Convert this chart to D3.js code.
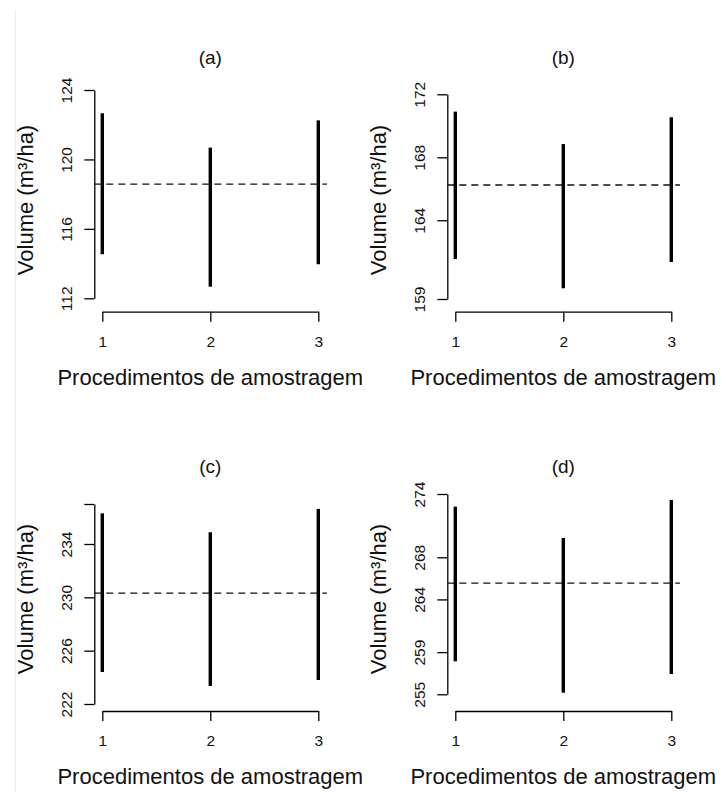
<!DOCTYPE html>
<html>
<head>
<meta charset="utf-8">
<script src="https://cdn.jsdelivr.net/npm/d3@7"></script>
<style>
  body { margin: 0; background: #fff; }
  svg { display: block; font-family: "Liberation Sans", Arial, sans-serif; }
  .axis path, .axis line { stroke: #000; stroke-width: 1.3px; }
  .axis text { font-size: 15.5px; fill: #111; }
  .title, .xlab, .ylab { fill: #111; }
</style>
</head>
<body>
<svg id="chart"></svg>
<script>
// ---- data ----
const procedures = [1, 2, 3];
const panelTitles = ['(a)', '(b)', '(c)', '(d)'];
const xLabel = 'Procedimentos de amostragem';
const yLabel = 'Volume (m³/ha)';

// interval limits (lower / upper) per procedure
const lowerA = [114.54, 112.67, 113.96];
const upperA = [122.66, 120.68, 122.25];
const lowerB = [161.54, 159.68, 161.35];
const upperB = [170.90, 168.84, 170.54];
const lowerC = [224.40, 223.35, 223.80];
const upperC = [236.30, 234.88, 236.63];
const lowerD = [258.13, 255.15, 256.92];
const upperD = [272.80, 269.83, 273.43];

// reference (dashed) value per panel
const refValues = [118.58, 166.24, 230.32, 265.55];

// y tick values and labels
const ticksA = [112, 116, 120, 124];
const ticksB = [159, 164, 168, 172];
const ticksC = [222, 226, 230, 234, 237];
const ticksD = [255, 259, 264, 268, 274];
const tickLabelsC = ['222', '226', '230', '234', ''];

// ---- layout ----
const width = 721, height = 792;

const svg = d3.select('#chart')
    .attr('width', width)
    .attr('height', height);

// faint frame line on the left of the scan
svg.append('line')
    .attr('x1', 15.5).attr('x2', 15.5)
    .attr('y1', 10).attr('y2', height)
    .attr('stroke', '#ececec')
    .attr('stroke-width', 1);

const panels = [
  {title: panelTitles[0], lower: lowerA, upper: upperA, ref: refValues[0], ticks: ticksA,
   axisX: 94.3, xRange: [102.3, 318.3], yRange: [298.3, 90], xAxisY: 311.7, titleY: 57, midY: 200},
  {title: panelTitles[1], lower: lowerB, upper: upperB, ref: refValues[1], ticks: ticksB,
   axisX: 447.3, xRange: [455.3, 671.3], yRange: [299, 94.3], xAxisY: 311.7, titleY: 57, midY: 200},
  {title: panelTitles[2], lower: lowerC, upper: upperC, ref: refValues[2], ticks: ticksC, labels: tickLabelsC,
   axisX: 94.3, xRange: [102.3, 318.3], yRange: [704, 504], xAxisY: 711, titleY: 466, midY: 599},
  {title: panelTitles[3], lower: lowerD, upper: upperD, ref: refValues[3], ticks: ticksD,
   axisX: 447.3, xRange: [455.3, 671.3], yRange: [694.3, 494], xAxisY: 711, titleY: 466, midY: 599}
];

panels.forEach(p => drawPanel(p));

function drawPanel(p) {
  const g = svg.append('g');

  const xScale = d3.scaleLinear()
      .domain([1, 3])
      .range(p.xRange);

  const yScale = d3.scaleLinear()
      .domain(d3.extent(p.ticks))
      .range(p.yRange);

  // y axis
  const yAxis = d3.axisLeft(yScale)
      .tickValues(p.ticks)
      .tickSize(10)
      .tickSizeOuter(0)
      .tickFormat((d, i) => p.labels ? p.labels[i] : d);

  g.append('g')
      .attr('class', 'axis y-axis')
      .attr('transform', `translate(${p.axisX},0)`)
      .call(yAxis)
      .call(a => a.selectAll('text')
          .attr('x', 0)
          .attr('dy', '0.35em')
          .attr('transform', 'translate(-28,0) rotate(-90)')
          .style('text-anchor', 'middle'));

  // x axis
  const xAxis = d3.axisBottom(xScale)
      .tickValues(procedures)
      .tickSize(10)
      .tickSizeOuter(0)
      .tickFormat(d => d);

  g.append('g')
      .attr('class', 'axis x-axis')
      .attr('transform', `translate(0,${p.xAxisY})`)
      .call(xAxis)
      .call(a => a.selectAll('text').attr('y', 24));

  // dashed reference line across the plot region
  g.append('line')
      .attr('x1', p.axisX)
      .attr('x2', xScale(3.08))
      .attr('y1', yScale(p.ref))
      .attr('y2', yScale(p.ref))
      .attr('stroke', '#111')
      .attr('stroke-width', 1.3)
      .attr('stroke-dasharray', '7,5');

  // interval segments
  g.selectAll('.seg')
      .data(procedures)
    .join('line')
      .attr('class', 'seg')
      .attr('x1', d => xScale(d))
      .attr('x2', d => xScale(d))
      .attr('y1', (d, i) => yScale(p.lower[i]))
      .attr('y2', (d, i) => yScale(p.upper[i]))
      .attr('stroke', '#000')
      .attr('stroke-width', 3.4);

  // title
  g.append('text')
      .attr('class', 'title')
      .attr('x', xScale(2))
      .attr('y', p.titleY)
      .attr('dy', '0.35em')
      .style('text-anchor', 'middle')
      .style('font-size', '19px')
      .text(p.title);

  // axis titles
  g.append('text')
      .attr('class', 'xlab')
      .attr('x', xScale(2))
      .attr('y', p.xAxisY + 73)
      .style('text-anchor', 'middle')
      .style('font-size', '22px')
      .text(xLabel);

  g.append('text')
      .attr('class', 'ylab')
      .attr('transform', `translate(${p.axisX - 69},${p.midY}) rotate(-90)`)
      .attr('dy', '0.35em')
      .style('text-anchor', 'middle')
      .style('font-size', '22px')
      .text(yLabel);
}
</script>
</body>
</html>
